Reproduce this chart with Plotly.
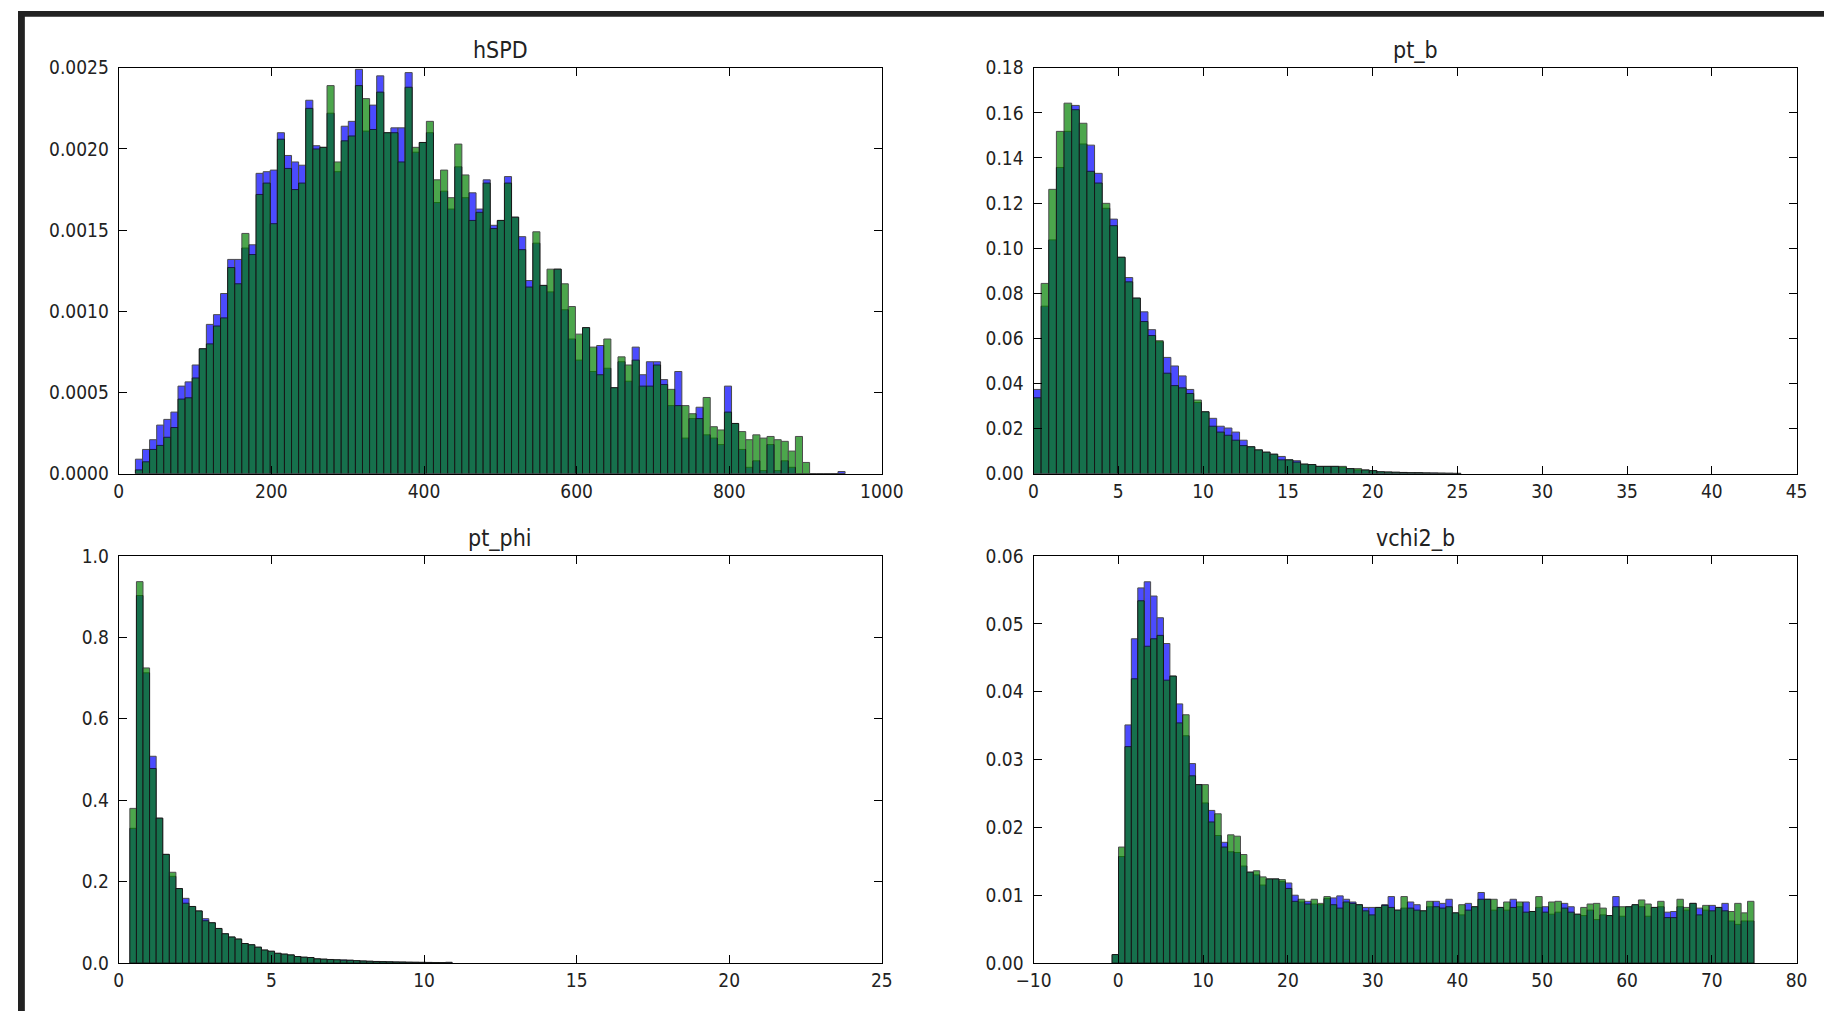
import plotly.graph_objects as go

# ---------------- data ----------------
# hSPD : 100 shared bins starting at 21.8, width 9.3
hspd_start = 21.8
hspd_width = 9.3
hspd_blue = [0.00009, 0.00015, 0.00021, 0.00030, 0.000335, 0.00038, 0.00054, 0.000566, 0.00067, 0.00077,
             0.00092, 0.00098, 0.00111, 0.00132, 0.00132, 0.00139, 0.00141, 0.00185, 0.00186, 0.00187,
             0.00210, 0.00196, 0.00192, 0.00190, 0.00230, 0.00202, 0.00201, 0.00222, 0.00186, 0.00214,
             0.00217, 0.00249, 0.00211, 0.00227, 0.00245, 0.00210, 0.00213, 0.00213, 0.00247, 0.00198,
             0.00204, 0.00210, 0.00167, 0.00174, 0.00163, 0.00189, 0.00170, 0.00173, 0.00163, 0.00181,
             0.00153, 0.00156, 0.00183, 0.00158, 0.00146, 0.00119, 0.00142, 0.00116, 0.00112, 0.00126,
             0.00101, 0.00083, 0.00070, 0.00090, 0.00063, 0.00079, 0.00065, 0.00053, 0.00069, 0.00057,
             0.00078, 0.00061, 0.00069, 0.00069, 0.00058, 0.00042, 0.00063, 0.00022, 0.00034, 0.00041,
             0.00024, 0.00022, 0.00018, 0.00054, 0.00031, 0.00015, 0.00004, 0.00008, 0.00002, 0.00018,
             0.00002, 0.00008, 0.00004, 0.0, 0.0, 0.0, 0.0, 0.0, 0.0, 0.000014]
hspd_green = [0.000024, 0.000074, 0.00015, 0.000175, 0.000225, 0.000285, 0.00046, 0.000468, 0.00059, 0.00077,
              0.00080, 0.00091, 0.00096, 0.00127, 0.00117, 0.00148, 0.00135, 0.00172, 0.00179, 0.00154,
              0.00206, 0.00188, 0.00175, 0.00179, 0.00225, 0.00200, 0.00201, 0.00239, 0.00192, 0.00205,
              0.00208, 0.00239, 0.00231, 0.00212, 0.00235, 0.00210, 0.00210, 0.00192, 0.00238, 0.00201,
              0.00204, 0.00217, 0.00181, 0.00187, 0.00170, 0.00203, 0.00184, 0.00156, 0.00161, 0.00179,
              0.00151, 0.00156, 0.00179, 0.00158, 0.00138, 0.00115, 0.00149, 0.00116, 0.00126, 0.00126,
              0.00117, 0.00103, 0.00086, 0.00090, 0.00078, 0.00061, 0.00083, 0.00053, 0.00072, 0.00067,
              0.00070, 0.00054, 0.00054, 0.00067, 0.00055, 0.00052, 0.00042, 0.00042, 0.00037, 0.00034,
              0.00047, 0.00029, 0.00027, 0.00038, 0.00031, 0.00026, 0.00021, 0.00024, 0.00022, 0.00023,
              0.00021, 0.00020, 0.00014, 0.00023, 0.00007, 0.0, 0.0, 0.0, 0.0, 0.0]

# pt_b : bins start at 0, width 0.45
ptb_start = 0.0
ptb_width = 0.45
ptb_blue = [0.0374, 0.0743, 0.1037, 0.1358, 0.1518, 0.1633, 0.1462, 0.1457, 0.1332, 0.1177,
            0.1129, 0.0960, 0.0870, 0.0779, 0.0718, 0.0639, 0.0585, 0.0516, 0.0478, 0.0434,
            0.0374, 0.0316, 0.0275, 0.0246, 0.0211, 0.0203, 0.0185, 0.0149, 0.0120, 0.0106,
            0.0096, 0.0087, 0.0077, 0.0062, 0.0058, 0.0043, 0.0041, 0.0033, 0.0033, 0.0033,
            0.0029, 0.0023, 0.0017, 0.0017, 0.0014, 0.0009, 0.0008, 0.0007, 0.0006, 0.0005,
            0.0005, 0.0004, 0.0004, 0.0003, 0.0003, 0.0002]
ptb_green = [0.0337, 0.0844, 0.1261, 0.1518, 0.1643, 0.1614, 0.1554, 0.1341, 0.1289, 0.1199,
             0.1100, 0.0960, 0.0851, 0.0779, 0.0675, 0.0613, 0.0590, 0.0446, 0.0391, 0.0381,
             0.0356, 0.0327, 0.0275, 0.0211, 0.0185, 0.0171, 0.0149, 0.0125, 0.0120, 0.0106,
             0.0096, 0.0087, 0.0062, 0.0062, 0.0052, 0.0043, 0.0041, 0.0033, 0.0033, 0.0033,
             0.0033, 0.0023, 0.0023, 0.0017, 0.0014, 0.0009, 0.0008, 0.0007, 0.0006, 0.0005,
             0.0005, 0.0004, 0.0003, 0.0003, 0.0002, 0.0002]

# pt_phi : bins start at 0.363, width 0.2155
ptphi_start = 0.363
ptphi_width = 0.2155
ptphi_blue = [0.331, 0.903, 0.713, 0.508, 0.356, 0.267, 0.213, 0.183, 0.159, 0.139,
              0.128, 0.109, 0.099, 0.085, 0.072, 0.064, 0.059, 0.048, 0.045, 0.039,
              0.032, 0.029, 0.024, 0.022, 0.020, 0.016, 0.0144, 0.0136, 0.0104, 0.0096,
              0.0088, 0.0080, 0.0078, 0.0072, 0.0060, 0.0052, 0.0045, 0.0040, 0.0036, 0.0032,
              0.0028, 0.0026, 0.0022, 0.0020, 0.0018, 0.0016, 0.0014, 0.0012, 0.0020]
ptphi_green = [0.380, 0.937, 0.725, 0.478, 0.356, 0.267, 0.223, 0.183, 0.147, 0.139,
               0.128, 0.104, 0.099, 0.085, 0.072, 0.064, 0.059, 0.048, 0.045, 0.039,
               0.032, 0.029, 0.024, 0.022, 0.020, 0.016, 0.0144, 0.0136, 0.0104, 0.0096,
               0.0086, 0.0080, 0.0070, 0.0066, 0.0058, 0.0050, 0.0044, 0.0038, 0.0034, 0.0030,
               0.0026, 0.0024, 0.0020, 0.0018, 0.0016, 0.0014, 0.0010, 0.0008, 0.0004]

# vchi2_b : bins start at -0.73, width 0.757
vchi_start = -0.73
vchi_width = 0.757
vchi_blue = [0.00125, 0.0157, 0.0351, 0.0478, 0.0553, 0.0562, 0.0541, 0.0509, 0.0471, 0.0423,
             0.0382, 0.0335, 0.0294, 0.0263, 0.0236, 0.0225, 0.0188, 0.0178, 0.0164, 0.0163,
             0.0143, 0.0134, 0.0130, 0.0115, 0.0124, 0.0124, 0.0120, 0.0118, 0.0100, 0.0090,
             0.0091, 0.0087, 0.0086, 0.0095, 0.0096, 0.0099, 0.0094, 0.0090, 0.0086, 0.0082,
             0.0082, 0.0082, 0.0086, 0.0098, 0.0078, 0.0081, 0.0090, 0.0086, 0.0077, 0.0083,
             0.0091, 0.0088, 0.0094, 0.0074, 0.0071, 0.0088, 0.0083, 0.0104, 0.0094, 0.0078,
             0.0082, 0.0078, 0.0094, 0.0083, 0.0090, 0.0076, 0.0082, 0.0083, 0.0072, 0.0075,
             0.0088, 0.0083, 0.0072, 0.0070, 0.0078, 0.0064, 0.0071, 0.0070, 0.0098, 0.0069,
             0.0083, 0.0086, 0.0083, 0.0069, 0.0082, 0.0083, 0.0075, 0.0076, 0.0083, 0.0078,
             0.0088, 0.0081, 0.0078, 0.0085, 0.0082, 0.0088, 0.0062, 0.0057, 0.0062, 0.0062]
vchi_green = [0.00125, 0.0171, 0.0319, 0.0419, 0.0534, 0.0467, 0.0478, 0.0483, 0.0417, 0.0423,
              0.0354, 0.0366, 0.0276, 0.0263, 0.0263, 0.0208, 0.0220, 0.0171, 0.0189, 0.0187,
              0.0160, 0.0134, 0.0136, 0.0127, 0.0124, 0.0124, 0.0123, 0.0110, 0.0091, 0.0094,
              0.0087, 0.0094, 0.0088, 0.0098, 0.0086, 0.0081, 0.0090, 0.0088, 0.0086, 0.0077,
              0.0071, 0.0082, 0.0085, 0.0082, 0.0078, 0.0098, 0.0081, 0.0078, 0.0077, 0.0091,
              0.0083, 0.0081, 0.0083, 0.0074, 0.0086, 0.0078, 0.0083, 0.0094, 0.0094, 0.0094,
              0.0082, 0.0090, 0.0082, 0.0090, 0.0075, 0.0076, 0.0098, 0.0075, 0.0090, 0.0091,
              0.0081, 0.0075, 0.0072, 0.0082, 0.0087, 0.0088, 0.0081, 0.0070, 0.0083, 0.0083,
              0.0083, 0.0086, 0.0093, 0.0087, 0.0082, 0.0091, 0.0067, 0.0067, 0.0094, 0.0082,
              0.0088, 0.0071, 0.0085, 0.0077, 0.0082, 0.0077, 0.0076, 0.0088, 0.0074, 0.0091]

titles = ["hSPD", "pt_b", "pt_phi", "vchi2_b"]
x_ranges = [[0, 1000], [0, 45], [0, 25], [-10, 80]]
x_dticks = [200, 5, 5, 10]
y_ranges = [[0, 0.0025], [0, 0.18], [0, 1.0], [0, 0.06]]
y_dticks = [0.0005, 0.02, 0.2, 0.01]
y_formats = [".4f", ".2f", ".1f", ".2f"]

panels = [
    (hspd_start, hspd_width, hspd_blue, hspd_green),
    (ptb_start, ptb_width, ptb_blue, ptb_green),
    (ptphi_start, ptphi_width, ptphi_blue, ptphi_green),
    (vchi_start, vchi_width, vchi_blue, vchi_green),
]

# ---------------- layout geometry ----------------
W, H = 1846, 1022
col_dom = [[103 / W, 883 / W], [1038 / W, 1818 / W]]
row_dom = [[1 - 473 / H, 1 - 58 / H], [1 - 973 / H, 1 - 557 / H]]

FONT = "DejaVu Sans Condensed, DejaVu Sans, sans-serif"
TXT = "#222222"

fig = go.Figure()

for k, (start, width, blue, green) in enumerate(panels):
    ax = "" if k == 0 else str(k + 1)
    for vals, col in ((blue, "#0000ff"), (green, "#008000")):
        xs = [start + width * (i + 0.5) for i in range(len(vals))]
        fig.add_trace(go.Bar(
            x=xs, y=vals, width=width,
            marker=dict(color=col, line=dict(color="#000000", width=1)),
            opacity=0.7,
            xaxis="x" + ax, yaxis="y" + ax,
            showlegend=False, hoverinfo="skip",
        ))

layout = dict(
    width=W, height=H, autosize=False,
    margin=dict(l=0, r=0, t=0, b=0),
    paper_bgcolor="white", plot_bgcolor="white",
    barmode="overlay",
    font=dict(family=FONT, size=19, color=TXT),
    annotations=[], shapes=[],
)

for k in range(4):
    r, c = divmod(k, 2)
    ax = "" if k == 0 else str(k + 1)
    common = dict(showline=True, linecolor="#000000", linewidth=1.2, mirror="ticks",
                  ticks="inside", ticklen=8, tickwidth=1, tickcolor="#000000",
                  showgrid=False, zeroline=False, fixedrange=True,
                  tickfont=dict(family=FONT, size=19, color=TXT))
    layout["xaxis" + ax] = dict(domain=col_dom[c], range=x_ranges[k], dtick=x_dticks[k],
                                tick0=0, anchor="y" + ax, **common)
    layout["yaxis" + ax] = dict(domain=row_dom[r], range=y_ranges[k], dtick=y_dticks[k],
                                tick0=0, tickformat=y_formats[k], anchor="x" + ax,
                                ticklabelstandoff=5, **common)
    layout["annotations"].append(dict(
        text=titles[k], xref="paper", yref="paper",
        x=(col_dom[c][0] + col_dom[c][1]) / 2, y=row_dom[r][1],
        xanchor="center", yanchor="bottom", yshift=3, showarrow=False,
        font=dict(family=FONT, size=23, color=TXT)))

# dark frame of the screenshot (left and top)
layout["shapes"] += [
    dict(type="rect", xref="paper", yref="paper", x0=0, x1=7 / W, y0=0, y1=1,
         fillcolor="#222222", line=dict(width=0), layer="above"),
    dict(type="rect", xref="paper", yref="paper", x0=0, x1=1, y0=1 - 6 / H, y1=1,
         fillcolor="#222222", line=dict(width=0), layer="above"),
]

fig.update_layout(**layout)
fig.write_html("out.html", config={"displayModeBar": False})
